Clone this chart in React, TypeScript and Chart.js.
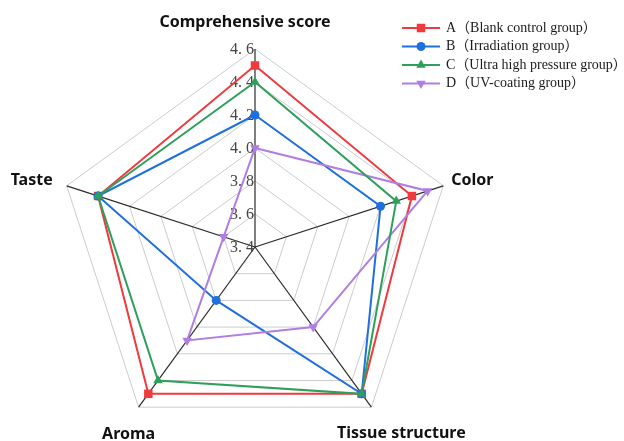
import React, { useEffect, useRef } from "react";
import { Chart, registerables } from "chart.js";

Chart.register(...registerables);

const categories = ["Comprehensive score", "Color", "Tissue structure", "Aroma", "Taste"];
const seriesNames = [
  "A（Blank control group）",
  "B（Irradiation group）",
  "C（Ultra high pressure group）",
  "D（UV-coating group）",
];
const seriesA = [4.5, 4.4, 4.5, 4.5, 4.4];
const seriesB = [4.2, 4.2, 4.5, 3.8, 4.4];
const seriesC = [4.4, 4.3, 4.5, 4.4, 4.4];
const seriesD = [4.0, 4.5, 4.0, 4.1, 3.6];
const tickValues = [3.4, 3.6, 3.8, 4.0, 4.2, 4.4, 4.6];
const tickLabels = ["3. 4", "3. 6", "3. 8", "4. 0", "4. 2", "4. 4", "4. 6"];

const colors = ["#f03a3e", "#1f6fdf", "#2f9f5c", "#b07de3"];
const markers = ["rect", "circle", "triangle", "triangle"];
const markerRadius = [6, 4.5, 5.5, 5.5];
const markerRotation = [0, 0, 0, 180];
const drawOrder = [3, 2, 0, 1];

function drawMarker(ctx: CanvasRenderingContext2D, style: string, x: number, y: number, r: number, rot: number) {
  ctx.beginPath();
  if (style === "rect") {
    const h = r * Math.SQRT1_2;
    ctx.rect(x - h, y - h, 2 * h, 2 * h);
  } else if (style === "circle") {
    ctx.arc(x, y, r, 0, Math.PI * 2);
  } else {
    let a = (rot * Math.PI) / 180;
    ctx.moveTo(x + Math.sin(a) * r, y - Math.cos(a) * r);
    a += (2 * Math.PI) / 3;
    ctx.lineTo(x + Math.sin(a) * r, y - Math.cos(a) * r);
    a += (2 * Math.PI) / 3;
    ctx.lineTo(x + Math.sin(a) * r, y - Math.cos(a) * r);
    ctx.closePath();
  }
  ctx.fill();
}

const tickPlugin = {
  id: "tickText",
  beforeDatasetsDraw(chart: any) {
    const r = chart.scales.r;
    const ctx = chart.ctx;
    ctx.save();
    ctx.font = '16px "Liberation Serif", "DejaVu Serif", serif';
    ctx.fillStyle = "#454545";
    ctx.textAlign = "right";
    ctx.textBaseline = "middle";
    tickValues.forEach((v, i) => {
      const d = r.getDistanceFromCenterForValue(v);
      ctx.fillText(tickLabels[i], r.xCenter - 1, r.yCenter - d + 1);
    });
    ctx.restore();
  },
};

const labelPlugin = {
  id: "axisText",
  afterDraw(chart: any) {
    const r = chart.scales.r;
    const ctx = chart.ctx;
    ctx.save();
    ctx.font = 'bold 16px "Noto Sans", "Open Sans", sans-serif';
    ctx.fillStyle = "#111";
    ctx.textBaseline = "middle";
    const place = [
      { align: "center", dx: -10, dy: -27 },
      { align: "left", dx: 8, dy: -5 },
      { align: "center", dx: 30, dy: 26 },
      { align: "center", dx: -10, dy: 27 },
      { align: "right", dx: -14, dy: -5 },
    ];
    categories.forEach((c, i) => {
      const p = r.getPointPosition(i, r.drawingArea);
      ctx.textAlign = place[i].align;
      ctx.fillText(c, p.x + place[i].dx, p.y + place[i].dy);
    });
    ctx.restore();
  },
};

const legendPlugin = {
  id: "lineLegend",
  afterDraw(chart: any) {
    const ctx = chart.ctx;
    ctx.save();
    ctx.font = '14px "Liberation Serif", "Noto Sans CJK SC", serif';
    ctx.textBaseline = "middle";
    ctx.textAlign = "left";
    seriesNames.forEach((name, i) => {
      const y = 28 + i * 18.5;
      ctx.strokeStyle = colors[i];
      ctx.fillStyle = colors[i];
      ctx.lineWidth = 2;
      ctx.beginPath();
      ctx.moveTo(402, y);
      ctx.lineTo(440, y);
      ctx.stroke();
      drawMarker(ctx, markers[i], 421, y, markerRadius[i], markerRotation[i]);
      ctx.fillStyle = "#1a1a1a";
      ctx.fillText(name, 446, y);
    });
    ctx.restore();
  },
};

export default function App() {
  const ref = useRef<HTMLCanvasElement>(null);
  useEffect(() => {
    if (!ref.current) return;
    const series = [seriesA, seriesB, seriesC, seriesD];
    const chart = new Chart(ref.current, {
      type: "radar",
      data: {
        labels: categories,
        datasets: series.map((d, i) => ({
          label: seriesNames[i],
          data: d,
          borderColor: colors[i],
          backgroundColor: colors[i],
          pointBackgroundColor: colors[i],
          pointBorderColor: colors[i],
          pointBorderWidth: 0,
          pointStyle: markers[i] as any,
          pointRadius: markerRadius[i],
          pointRotation: markerRotation[i],
          borderWidth: 2,
          fill: false,
          order: drawOrder[i],
        })),
      },
      options: {
        animation: false,
        responsive: true,
        maintainAspectRatio: false,
        layout: { padding: { left: 57, right: 171, top: 49, bottom: 55 } },
        plugins: { legend: { display: false }, tooltip: { enabled: false } },
        scales: {
          r: {
            min: 3.4,
            max: 4.6,
            ticks: { display: false, stepSize: 0.2 },
            grid: { color: "#cccccc", lineWidth: 1 },
            angleLines: { color: "#2a2a2a", lineWidth: 1.2 },
            pointLabels: { display: false },
          },
        },
      },
      plugins: [tickPlugin, labelPlugin, legendPlugin],
    });
    return () => chart.destroy();
  }, []);
  return (
    <div style={{ position: "fixed", left: 0, top: 0, width: 624, height: 500, background: "#fff" }}>
      <canvas ref={ref} />
    </div>
  );
}
